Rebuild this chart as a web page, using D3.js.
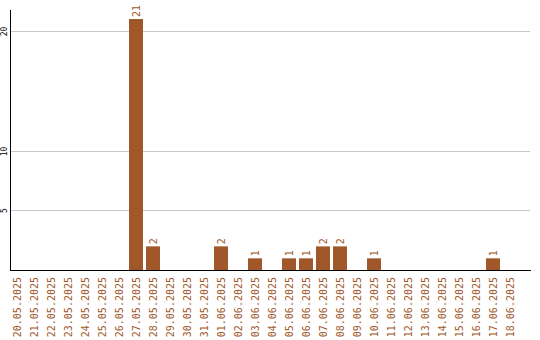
<!DOCTYPE html>
<html>
<head>
<meta charset="utf-8">
<script src="https://cdn.jsdelivr.net/npm/d3@7"></script>
<style>
  body { margin: 0; background: #fff; }
  svg { display: block; }
  text { font-family: "DejaVu Sans Mono", "Liberation Mono", monospace; }
</style>
</head>
<body>
<div id="chart"></div>
<script>
const dates = ["20.05.2025","21.05.2025","22.05.2025","23.05.2025","24.05.2025","25.05.2025",
  "26.05.2025","27.05.2025","28.05.2025","29.05.2025","30.05.2025","31.05.2025","01.06.2025",
  "02.06.2025","03.06.2025","04.06.2025","05.06.2025","06.06.2025","07.06.2025","08.06.2025",
  "09.06.2025","10.06.2025","11.06.2025","12.06.2025","13.06.2025","14.06.2025","15.06.2025",
  "16.06.2025","17.06.2025","18.06.2025"];
const counts = [0,0,0,0,0,0,0,21,2,0,0,0,2,0,1,0,1,1,2,2,0,1,0,0,0,0,0,0,1,0];
const yTicks = [5, 10, 20];

const w = 540, h = 340;
const barColor = "#a0572a";
const data = dates.map((d, i) => ({ date: d, value: counts[i] }));

const svg = d3.select("#chart").append("svg")
    .attr("width", w)
    .attr("height", h);

const x = d3.scaleBand()
    .domain(dates)
    .range([10, 517])
    .paddingInner(3 / 17)
    .paddingOuter(0);

const y = d3.scaleLinear()
    .domain([0, 20])
    .range([270.3, 31]);

// grid lines
svg.selectAll("line.grid")
    .data(yTicks)
    .enter()
    .append("line")
    .attr("class", "grid")
    .attr("x1", 11)
    .attr("x2", 530)
    .attr("y1", d => Math.round(y(d)) + 0.5)
    .attr("y2", d => Math.round(y(d)) + 0.5)
    .attr("stroke", "#c8c8c8")
    .attr("stroke-width", 1);

// y tick labels, rotated
svg.selectAll("text.ytick")
    .data(yTicks)
    .enter()
    .append("text")
    .attr("class", "ytick")
    .attr("transform", d => `translate(7,${Math.round(y(d)) + 0.5}) rotate(-90)`)
    .attr("text-anchor", "middle")
    .attr("font-size", 8)
    .attr("fill", "#000")
    .text(d => d);

// bars
svg.selectAll("rect.bar")
    .data(data.filter(d => d.value > 0))
    .enter()
    .append("rect")
    .attr("class", "bar")
    .attr("x", d => x(d.date))
    .attr("width", x.bandwidth())
    .attr("y", d => y(d.value))
    .attr("height", d => y(0) - y(d.value))
    .attr("fill", barColor);

// value labels
svg.selectAll("text.value")
    .data(data.filter(d => d.value > 0))
    .enter()
    .append("text")
    .attr("class", "value")
    .attr("transform", d => `translate(${x(d.date) + x.bandwidth() / 2 + 3.5},${y(d.value) - 2}) rotate(-90)`)
    .attr("text-anchor", "start")
    .attr("font-size", 10)
    .attr("fill", barColor)
    .text(d => d.value);

// axes lines
svg.append("line")
    .attr("x1", 10.5).attr("x2", 10.5)
    .attr("y1", 10).attr("y2", 270)
    .attr("stroke", "#000");
svg.append("line")
    .attr("x1", 10).attr("x2", 531)
    .attr("y1", 270.5).attr("y2", 270.5)
    .attr("stroke", "#000");

// x labels
svg.selectAll("text.xlabel")
    .data(dates)
    .enter()
    .append("text")
    .attr("class", "xlabel")
    .attr("transform", d => `translate(${x(d) + x.bandwidth() / 2 + 3.5},277) rotate(-90)`)
    .attr("text-anchor", "end")
    .attr("font-size", 10)
    .attr("fill", barColor)
    .text(d => d);
</script>
</body>
</html>
